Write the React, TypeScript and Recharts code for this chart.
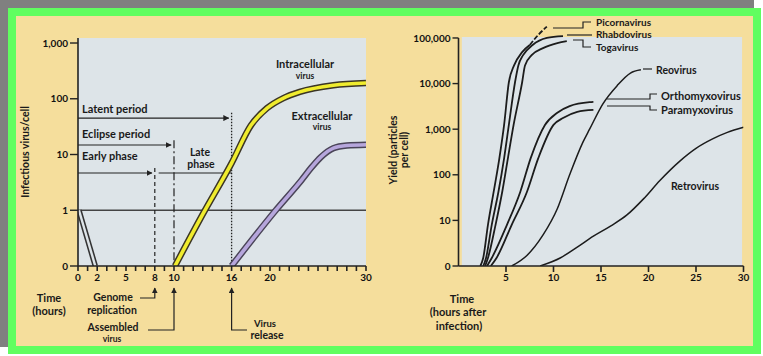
import React from 'react';
import {
  ComposedChart,
  Line,
  XAxis,
  YAxis,
  CartesianGrid,
  ReferenceLine,
  ReferenceArea,
} from 'recharts';

// ---------------- LEFT PANEL: one-step growth curve ----------------
const leftHourTicks = [0, 1, 2, 3, 4, 5, 6, 7, 8, 9, 10, 11, 12, 13, 14, 15, 16, 17, 18, 19, 20, 21, 22, 23, 24, 25, 26, 27, 28, 29, 30];
const leftHourLabels = [0, 2, 5, 8, 10, 16, 20, 30];
const leftYTicks = [0.1, 1, 10, 100, 1000];
const leftYLabels = ['0', '1', '10', '100', '1,000'];

// input virus disappearing after infection
const inputVirus = [
  { h: 0.1, v: 1 },
  { h: 1.8, v: 0.1 },
];
// intracellular virus (yellow)
const intracellular = [
  { h: 10.1, v: 0.1 },
  { h: 13, v: 0.85 },
  { h: 16, v: 7 },
  { h: 18, v: 33 },
  { h: 19.7, v: 68 },
  { h: 21.4, v: 103 },
  { h: 23.1, v: 133 },
  { h: 26.6, v: 175 },
  { h: 30, v: 192 },
];
// extracellular virus (purple)
const extracellular = [
  { h: 16, v: 0.1 },
  { h: 20.6, v: 1 },
  { h: 23.3, v: 3.5 },
  { h: 24.3, v: 5.8 },
  { h: 25.3, v: 9 },
  { h: 26.6, v: 13 },
  { h: 28, v: 14.5 },
  { h: 30, v: 15 },
];
// phase boundaries (hours) and arrow levels (virus/cell)
const phaseHours = { early: 8, eclipse: 10, latent: 16 };
const arrowLevels = { latent: 45, eclipse: 14.8, early: 4.66 };
const markerTops = { latent: 56, eclipse: 18, early: 5.7 };

// ---------------- RIGHT PANEL: yields of virus families ----------------
const rightHourTicks = [5, 10, 15, 20, 25, 30];
const rightYTicks = [1, 10, 100, 1000, 10000, 100000];
const rightYLabels = ['0', '10', '100', '1,000', '10,000', '100,000'];

const picornavirus = [
  { h: 2.3, v: 1 },
  { h: 2.6, v: 1.5 },
  { h: 3.1, v: 8 },
  { h: 3.7, v: 42 },
  { h: 4.3, v: 230 },
  { h: 4.8, v: 1240 },
  { h: 5.3, v: 10700 },
  { h: 5.85, v: 25000 },
  { h: 6.7, v: 49000 },
  { h: 7.5, v: 70000 },
];
const picornavirusTop = [
  { h: 7.5, v: 70000 },
  { h: 8.4, v: 117000 },
  { h: 9.3, v: 177000 },
];
const rhabdovirus = [
  { h: 2.6, v: 1 },
  { h: 2.9, v: 1.5 },
  { h: 3.5, v: 8 },
  { h: 4.2, v: 42 },
  { h: 4.8, v: 230 },
  { h: 5.3, v: 1240 },
  { h: 5.95, v: 10700 },
  { h: 6.3, v: 25000 },
  { h: 6.8, v: 42000 },
  { h: 7.8, v: 70000 },
  { h: 9.3, v: 100000 },
  { h: 11, v: 110000 },
];
const togavirus = [
  { h: 2.8, v: 1 },
  { h: 3.1, v: 1.5 },
  { h: 3.9, v: 8 },
  { h: 4.6, v: 42 },
  { h: 5.2, v: 230 },
  { h: 5.8, v: 1240 },
  { h: 6.7, v: 10700 },
  { h: 7.0, v: 25000 },
  { h: 7.7, v: 42000 },
  { h: 8.9, v: 60000 },
  { h: 10.4, v: 77000 },
  { h: 11.4, v: 85000 },
];
const orthomyxovirus = [
  { h: 3.0, v: 1 },
  { h: 3.5, v: 1.5 },
  { h: 5.1, v: 8 },
  { h: 6.5, v: 42 },
  { h: 7.6, v: 232 },
  { h: 9.1, v: 1240 },
  { h: 10.4, v: 2300 },
  { h: 11.7, v: 3200 },
  { h: 13.8, v: 3900 },
  { h: 14.2, v: 3950 },
];
const paramyxovirus = [
  { h: 3.4, v: 1 },
  { h: 4.0, v: 1.5 },
  { h: 5.6, v: 8 },
  { h: 7.2, v: 42 },
  { h: 8.4, v: 232 },
  { h: 10.0, v: 1240 },
  { h: 11.0, v: 1750 },
  { h: 12.5, v: 2400 },
  { h: 14.2, v: 2650 },
];
const reovirus = [
  { h: 5.6, v: 1 },
  { h: 7.2, v: 1.7 },
  { h: 8.9, v: 4.8 },
  { h: 10.4, v: 18 },
  { h: 11.7, v: 100 },
  { h: 13.1, v: 520 },
  { h: 13.8, v: 1000 },
  { h: 15.2, v: 3600 },
  { h: 16.7, v: 9000 },
  { h: 18.1, v: 17000 },
  { h: 19.2, v: 20000 },
];
const retrovirus = [
  { h: 8.6, v: 1 },
  { h: 10.7, v: 1.5 },
  { h: 12.5, v: 2.6 },
  { h: 14.2, v: 4.5 },
  { h: 16, v: 7.5 },
  { h: 17.7, v: 13 },
  { h: 19.5, v: 30 },
  { h: 21.2, v: 75 },
  { h: 23.3, v: 200 },
  { h: 25, v: 380 },
  { h: 26.8, v: 620 },
  { h: 28.3, v: 850 },
  { h: 30, v: 1100 },
];

// ---------------- styling ----------------
const FONT = 'Lato, "DejaVu Sans", sans-serif';
const INK = '#222';
const PLOT_BG = '#dde4e8';
const TAN = '#f5de9c';

const ArrowShape = (p: any) => (
  <line x1={p.x1} y1={p.y1} x2={p.x2} y2={p.y2} stroke={INK} strokeWidth={1.2} markerEnd="url(#arrowHead)" />
);

const tickStyle = { fill: '#111', fontSize: 10, fontWeight: 700, fontFamily: FONT };

function T(props: any) {
  const { x, y, children, size = 11, anchor = 'start', weight = 700, rotate } = props;
  return (
    <text
      x={x}
      y={y}
      fontSize={size}
      fontWeight={weight}
      fontFamily={FONT}
      fill="#1a1a1a"
      textAnchor={anchor}
      dominantBaseline="central"
      transform={rotate ? `rotate(${rotate} ${x} ${y})` : undefined}
    >
      {children}
    </text>
  );
}

function LeftChart() {
  return (
    <ComposedChart width={380} height={356} margin={{ top: 38, right: 14, bottom: 60, left: 18 }}>
      <CartesianGrid fill={PLOT_BG} horizontal={false} vertical={false} />
      <XAxis
        type="number"
        dataKey="h"
        domain={[0, 30]}
        ticks={leftHourTicks}
        interval={0}
        allowDataOverflow
        tickFormatter={(t: number) => (leftHourLabels.includes(t) ? String(t) : '')}
        height={30}
        tickSize={5}
        tickMargin={3}
        axisLine={{ stroke: INK, strokeWidth: 1.6 }}
        tickLine={{ stroke: INK, strokeWidth: 1.6 }}
        tick={tickStyle}
      />
      <YAxis
        type="number"
        scale="log"
        domain={[0.1, 1230]}
        allowDataOverflow
        ticks={leftYTicks}
        interval={0}
        tickFormatter={(t: number) => leftYLabels[leftYTicks.indexOf(t)] ?? ''}
        width={60}
        tickSize={8}
        tickMargin={2}
        axisLine={{ stroke: INK, strokeWidth: 1.6 }}
        tickLine={{ stroke: INK, strokeWidth: 1.4 }}
        tick={tickStyle}
      />
      <ReferenceLine y={1} stroke="#444" strokeWidth={1.3} />

      {/* phase markers */}
      <ReferenceLine segment={[{ x: 0, y: arrowLevels.latent }, { x: 15.7, y: arrowLevels.latent }]} shape={ArrowShape} ifOverflow="visible" />
      <ReferenceLine segment={[{ x: 0, y: arrowLevels.eclipse }, { x: 9.7, y: arrowLevels.eclipse }]} shape={ArrowShape} ifOverflow="visible" />
      <ReferenceLine segment={[{ x: 0, y: arrowLevels.early }, { x: 7.7, y: arrowLevels.early }]} shape={ArrowShape} ifOverflow="visible" />
      <ReferenceLine segment={[{ x: 8.4, y: arrowLevels.early }, { x: 16, y: arrowLevels.early }]} stroke={INK} strokeWidth={1.2} ifOverflow="visible" />
      <ReferenceLine segment={[{ x: phaseHours.latent, y: markerTops.latent }, { x: phaseHours.latent, y: 0.1 }]} stroke={INK} strokeWidth={1.3} strokeDasharray="1.5 1.5" ifOverflow="visible" />
      <ReferenceLine segment={[{ x: phaseHours.eclipse, y: markerTops.eclipse }, { x: phaseHours.eclipse, y: 0.1 }]} stroke={INK} strokeWidth={1.2} strokeDasharray="8 3 2 3" ifOverflow="visible" />
      <ReferenceLine segment={[{ x: phaseHours.early, y: markerTops.early }, { x: phaseHours.early, y: 0.1 }]} stroke={INK} strokeWidth={1.2} strokeDasharray="4 3" ifOverflow="visible" />

      <Line data={inputVirus} dataKey="v" type="linear" stroke="#333" strokeWidth={5.5} dot={false} activeDot={false} isAnimationActive={false} />
      <Line data={inputVirus} dataKey="v" type="linear" stroke={PLOT_BG} strokeWidth={2.4} dot={false} activeDot={false} isAnimationActive={false} />

      <Line data={extracellular} dataKey="v" type="monotone" stroke="#4a4458" strokeWidth={6.5} dot={false} activeDot={false} isAnimationActive={false} />
      <Line data={extracellular} dataKey="v" type="monotone" stroke="#b6a6dc" strokeWidth={3.6} dot={false} activeDot={false} isAnimationActive={false} />

      <Line data={intracellular} dataKey="v" type="monotone" stroke="#3b3524" strokeWidth={6.5} dot={false} activeDot={false} isAnimationActive={false} />
      <Line data={intracellular} dataKey="v" type="monotone" stroke="#f0ec2e" strokeWidth={3.6} dot={false} activeDot={false} isAnimationActive={false} />
    </ComposedChart>
  );
}

function RightChart() {
  const common = { dataKey: 'v', type: 'monotone' as const, stroke: '#1c1c1c', strokeWidth: 1.8, dot: false, activeDot: false, isAnimationActive: false };
  return (
    <ComposedChart width={383} height={356} margin={{ top: 22, right: 19.5, bottom: 60, left: 18.5 }}>
      <ReferenceArea x1={0.35} x2={29.85} y1={1} y2={105000} fill={PLOT_BG} fillOpacity={1} stroke="none" ifOverflow="visible" />
      <XAxis
        type="number"
        dataKey="h"
        domain={[0, 30]}
        allowDataOverflow
        ticks={rightHourTicks}
        interval={0}
        height={30}
        tickSize={6}
        tickMargin={2}
        axisLine={{ stroke: INK, strokeWidth: 1.6 }}
        tickLine={{ stroke: INK, strokeWidth: 1.6 }}
        tick={tickStyle}
      />
      <YAxis
        type="number"
        scale="log"
        domain={[1, 224000]}
        allowDataOverflow
        ticks={rightYTicks}
        interval={0}
        tickFormatter={(t: number) => rightYLabels[rightYTicks.indexOf(t)] ?? ''}
        width={60}
        tickSize={6}
        tickMargin={2}
        axisLine={false}
        tickLine={{ stroke: INK, strokeWidth: 1.4 }}
        tick={tickStyle}
      />
      <ReferenceLine segment={[{ x: 0, y: 1 }, { x: 0, y: 100000 }]} stroke={INK} strokeWidth={1.6} ifOverflow="visible" />

      <Line data={picornavirus} {...common} />
      <Line data={picornavirusTop} {...common} strokeDasharray="5 2" />
      <Line data={rhabdovirus} {...common} />
      <Line data={togavirus} {...common} />
      <Line data={orthomyxovirus} {...common} />
      <Line data={paramyxovirus} {...common} />
      <Line data={reovirus} {...common} strokeWidth={1.5} />
      <Line data={retrovirus} {...common} strokeWidth={1.5} />
    </ComposedChart>
  );
}

function Overlay() {
  const lp = { fill: 'none', stroke: INK, strokeWidth: 1.2 };
  return (
    <svg width={763} height={356} style={{ position: 'absolute', left: 0, top: 0, pointerEvents: 'none' }}>
      <defs>
        <marker id="arrowHead" viewBox="0 0 10 10" refX="9" refY="5" markerWidth="5" markerHeight="5" orient="auto">
          <path d="M0,0 L10,5 L0,10 z" fill={INK} />
        </marker>
      </defs>
      {/* left panel texts */}
      <T x={82} y={108}>Latent period</T>
      <T x={82} y={133}>Eclipse period</T>
      <T x={82} y={155}>Early phase</T>
      <T x={200} y={152} anchor="middle" size={10.5}>Late</T>
      <T x={201} y={164} anchor="middle" size={10.5}>phase</T>
      <T x={305} y={63} anchor="middle">Intracellular</T>
      <T x={305} y={76} anchor="middle" size={8.5}>virus</T>
      <T x={322} y={115} anchor="middle">Extracellular</T>
      <T x={322} y={127} anchor="middle" size={8.5}>virus</T>
      <T x={49} y={297} anchor="middle" size={11}>Time</T>
      <T x={49} y={310} anchor="middle" size={11}>(hours)</T>
      <T x={113} y={297} anchor="middle" size={10.5}>Genome</T>
      <T x={112} y={310} anchor="middle" size={10.5}>replication</T>
      <T x={113} y={327} anchor="middle" size={10.5}>Assembled</T>
      <T x={112} y={339} anchor="middle" size={8.5}>virus</T>
      <T x={265} y={323} anchor="middle" size={9.5}>Virus</T>
      <T x={267} y={335} anchor="middle" size={10.5}>release</T>
      <T x={25} y={152} anchor="middle" size={10.5} rotate={-90}>Infectious virus/cell</T>

      {/* left panel below-axis pointers */}
      <path d="M140,298 H154.8 V288" {...lp} markerEnd="url(#arrowHead)" />
      <path d="M148,330 H174 V288" {...lp} markerEnd="url(#arrowHead)" />
      <path d="M247,330 H231.6 V288" {...lp} markerEnd="url(#arrowHead)" />

      {/* right panel labels */}
      <path d="M553,28 H583 V22 H591" {...lp} />
      <path d="M567,35 H592" {...lp} />
      <path d="M573,40 H583 V47 H591" {...lp} />
      <path d="M607,99 H650 V94 H657" {...lp} />
      <path d="M607,106 H650 V110 H657" {...lp} />
      <path d="M643,69 H652" {...lp} />
      <T x={596} y={22} size={10}>Picornavirus</T>
      <T x={596} y={34} size={10}>Rhabdovirus</T>
      <T x={596} y={47} size={10}>Togavirus</T>
      <T x={656} y={70} size={10.5}>Reovirus</T>
      <T x={661} y={95} size={11}>Orthomyxovirus</T>
      <T x={661} y={109} size={11}>Paramyxovirus</T>
      <T x={695} y={186} anchor="middle" size={10.5}>Retrovirus</T>
      <T x={462} y={298} anchor="middle" size={11}>Time</T>
      <T x={458} y={311} anchor="middle" size={11}>(hours after</T>
      <T x={459} y={325} anchor="middle" size={11}>infection)</T>
      <T x={393} y={150} anchor="middle" size={10.5} rotate={-90}>Yield (particles</T>
      <T x={404} y={150} anchor="middle" size={10.5} rotate={-90}>per cell)</T>
    </svg>
  );
}

export default function App() {
  return (
    <div style={{ position: 'absolute', left: 0, top: 0, width: 763, height: 356, background: '#fff', overflow: 'hidden' }}>
      <div style={{ position: 'absolute', left: 0, top: 0, width: 754, height: 347, background: '#808080' }} />
      <div style={{ position: 'absolute', left: 8, top: 8, width: 753, height: 346, background: '#60fe60' }} />
      <div style={{ position: 'absolute', left: 16, top: 16, width: 737, height: 330, background: TAN }} />
      <div style={{ position: 'absolute', left: 0, top: 0 }}>
        <LeftChart />
      </div>
      <div style={{ position: 'absolute', left: 380, top: 0 }}>
        <RightChart />
      </div>
      <Overlay />
    </div>
  );
}
